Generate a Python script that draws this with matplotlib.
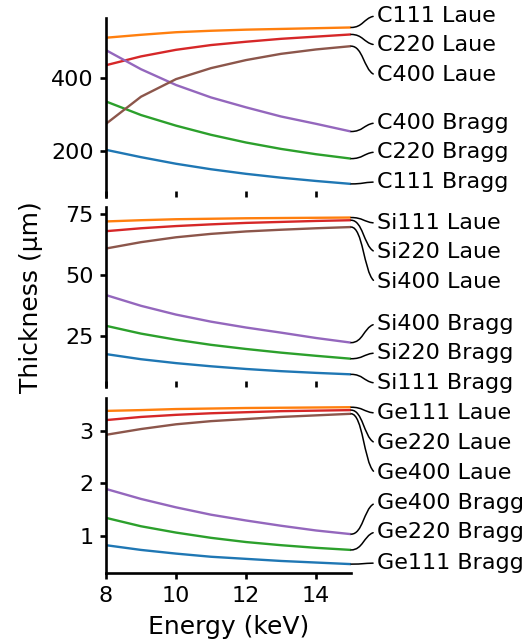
import matplotlib
matplotlib.use("Agg")
import matplotlib.pyplot as plt
from matplotlib.patches import ConnectionStyle
from matplotlib.path import Path

# ---------------- data ----------------
energy = [8, 9, 10, 11, 12, 13, 14, 15]

# Diamond (C)
c111_bragg = [203, 183, 165, 150, 137.5, 127, 118, 110]
c111_laue = [509, 517, 524, 528, 531, 533, 535, 537]
c220_bragg = [335, 298, 269, 244, 223, 205.5, 191, 179]
c220_laue = [434, 458, 476, 489, 498, 506, 512, 518]
c400_bragg = [475, 423, 380, 346, 319, 294, 274, 253]
c400_laue = [274, 348, 396, 426, 448, 465, 477, 486]

# Silicon (Si)
si111_bragg = [17.6, 15.5, 13.9, 12.6, 11.5, 10.6, 9.9, 9.3]
si111_laue = [72.0, 72.5, 72.9, 73.1, 73.3, 73.4, 73.5, 73.6]
si220_bragg = [29.2, 26.0, 23.5, 21.4, 19.7, 18.2, 16.9, 15.7]
si220_laue = [68.0, 69.2, 70.1, 70.8, 71.4, 71.8, 72.2, 72.5]
si400_bragg = [41.8, 37.4, 33.8, 30.9, 28.5, 26.4, 24.2, 22.3]
si400_laue = [60.9, 63.5, 65.5, 66.9, 67.9, 68.6, 69.2, 69.7]

# Germanium (Ge)
ge111_bragg = [0.82, 0.73, 0.66, 0.60, 0.56, 0.52, 0.49, 0.46]
ge111_laue = [3.375, 3.39, 3.41, 3.42, 3.43, 3.435, 3.44, 3.445]
ge220_bragg = [1.34, 1.18, 1.06, 0.96, 0.88, 0.82, 0.77, 0.73]
ge220_laue = [3.20, 3.26, 3.30, 3.33, 3.35, 3.37, 3.38, 3.39]
ge400_bragg = [1.89, 1.70, 1.54, 1.40, 1.29, 1.19, 1.10, 1.03]
ge400_laue = [2.92, 3.03, 3.12, 3.18, 3.22, 3.26, 3.29, 3.32]

x_ticks = [8, 10, 12, 14]
y_ticks_c = [200, 400]
y_ticks_si = [25, 50, 75]
y_ticks_ge = [1, 2, 3]

panels = [
    ("C", [("C111 Bragg", c111_bragg), ("C111 Laue", c111_laue),
           ("C220 Bragg", c220_bragg), ("C220 Laue", c220_laue),
           ("C400 Bragg", c400_bragg), ("C400 Laue", c400_laue)], y_ticks_c),
    ("Si", [("Si111 Bragg", si111_bragg), ("Si111 Laue", si111_laue),
            ("Si220 Bragg", si220_bragg), ("Si220 Laue", si220_laue),
            ("Si400 Bragg", si400_bragg), ("Si400 Laue", si400_laue)], y_ticks_si),
    ("Ge", [("Ge111 Bragg", ge111_bragg), ("Ge111 Laue", ge111_laue),
            ("Ge220 Bragg", ge220_bragg), ("Ge220 Laue", ge220_laue),
            ("Ge400 Bragg", ge400_bragg), ("Ge400 Laue", ge400_laue)], y_ticks_ge),
]

# ---------------- layout ----------------
colors = ["#1f77b4", "#ff7f0e", "#2ca02c", "#d62728", "#9467bd", "#8c564b"]
axes_rects = [
    [0.2023, 0.6929, 0.4676, 0.2792],
    [0.2023, 0.3981, 0.4676, 0.2799],
    [0.2023, 0.1096, 0.4676, 0.2714],
]
ylims = [(73, 563), (4.1, 77.9), (0.30, 3.62)]
# label vertical slots (axes fraction), order matches series order in each panel
label_slots = [
    [0.086, 1.011, 0.253, 0.850, 0.415, 0.682],
    [0.022, 0.911, 0.189, 0.750, 0.350, 0.583],
    [0.054, 0.914, 0.232, 0.742, 0.398, 0.570],
]
label_x = 1.107


class SCurve(ConnectionStyle._Base):
    def connect(self, posA, posB):
        xA, yA = posA
        xB, yB = posB
        xm = (xA + xB) / 2.0
        return Path([(xA, yA), (xm, yA), (xm, yB), (xB, yB)],
                    [Path.MOVETO, Path.CURVE4, Path.CURVE4, Path.CURVE4])


plt.rcParams["font.family"] = ["DejaVu Sans"]
plt.rcParams["font.size"] = 16

fig = plt.figure(figsize=(5.24, 6.43), dpi=100)
axes = []
for i, (name, series, yt) in enumerate(panels):
    ax = fig.add_axes(axes_rects[i])
    axes.append(ax)
    for j, (lab, vals) in enumerate(series):
        ax.plot(energy, vals, color=colors[j], lw=1.7, solid_capstyle="butt")
        ax.annotate(lab, xy=(energy[-1], vals[-1]), xycoords="data",
                    xytext=(label_x, label_slots[i][j]), textcoords="axes fraction",
                    ha="left", va="center", fontsize=16, annotation_clip=False,
                    arrowprops=dict(arrowstyle="-", connectionstyle=SCurve(),
                                    color="black", lw=1.1, relpos=(0, 0.5),
                                    shrinkA=3, shrinkB=0, patchA=None))
    ax.set_xlim(energy[0], energy[-1])
    ax.set_ylim(*ylims[i])
    ax.set_xticks(x_ticks)
    ax.set_yticks(yt)
    for s in ["top", "right"]:
        ax.spines[s].set_visible(False)
    ax.spines["left"].set_linewidth(1.9)
    ax.spines["bottom"].set_linewidth(1.9)
    ax.tick_params(axis="y", direction="out", length=4.5, width=1.9,
                   labelsize=16, pad=4.5)
    if i < 2:
        ax.spines["bottom"].set_visible(False)
        ax.tick_params(axis="x", direction="in", length=4, width=1.9,
                       labelbottom=False)
    else:
        ax.tick_params(axis="x", direction="out", length=4, width=1.9,
                       labelsize=16, pad=5.5)
        ax.set_xlabel("Energy (keV)", fontsize=18, labelpad=7)

axes[1].set_ylabel("Thickness (μm)", fontsize=18, labelpad=16)

fig.savefig("out.png", dpi=100)
